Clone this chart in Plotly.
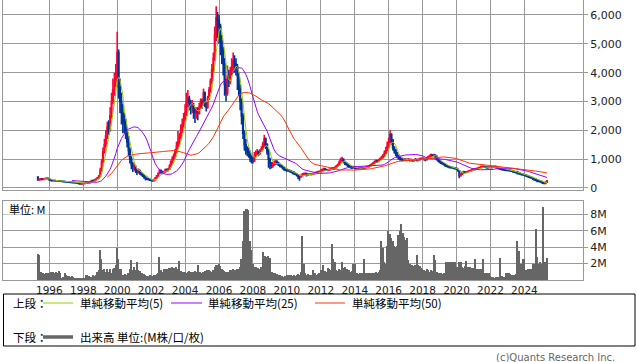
import pandas as pd
import plotly.graph_objects as go

# ---------------- data (monthly, May 1995 - May 2025) ----------------
start_month = "1995-05-01"
first_open = 380

closes = [
    280, 300, 320, 300, 310, 330, 340, 320,                                  # 1995 (May-Dec)
    280, 260, 255, 260, 250, 245, 250, 240, 235, 230, 220, 215,              # 1996
    210, 205, 200, 195, 190, 185, 180, 175, 170, 150, 140, 150,              # 1997
    160, 165, 170, 165, 180, 220, 260, 240, 280, 310, 350, 400,              # 1998
    600, 900, 1250, 1500, 1800, 2100, 2000, 2500, 3000, 3400, 3700, 3900,    # 1999
    4700, 3500, 3000, 2600, 2300, 2200, 1900, 1600, 1300, 1000, 800, 700,    # 2000
    720, 600, 550, 600, 520, 480, 430, 380, 330, 320, 300, 280,              # 2001
    260, 250, 290, 350, 420, 500, 600, 560, 540, 560, 620, 600,              # 2002
    650, 750, 900, 1000, 1100, 1250, 1450, 1600, 1750, 2000, 2200, 2400,     # 2003
    2600, 3000, 3100, 2950, 2800, 2850, 2700, 2600, 2650, 2600, 2800, 3000,  # 2004
    2900, 3300, 2950, 2800, 3100, 3400, 3700, 4100, 4500, 5300, 5900, 5800,  # 2005
    5600, 5100, 4700, 4300, 3600, 3300, 3900, 3700, 4000, 4200, 4400, 4300,  # 2006
    4200, 3900, 3500, 3000, 2500, 1900, 1500, 1300, 1250, 1200, 1050, 1000,  # 2007
    950, 1100, 1200, 1250, 1200, 1280, 1350, 1500, 1700, 1500, 1250, 1000,   # 2008
    850, 750, 800, 850, 900, 880, 820, 780, 750, 700, 650, 620,              # 2009
    620, 600, 580, 560, 540, 500, 480, 450, 400, 380, 430, 470,              # 2010
    480, 500, 450, 470, 480, 470, 490, 500, 520, 540, 550, 560,              # 2011
    600, 630, 650, 640, 630, 620, 640, 660, 680, 670, 700, 760,              # 2012
    800, 880, 960, 1000, 920, 860, 820, 780, 740, 720, 700, 720,             # 2013
    700, 680, 690, 680, 690, 700, 690, 700, 720, 730, 760, 790,              # 2014
    820, 860, 900, 940, 920, 960, 1000, 1050, 1100, 1200, 1300, 1450,        # 2015
    1600, 1850, 1650, 1400, 1300, 1200, 1100, 1050, 1000, 1000, 980, 990,    # 2016
    980, 970, 990, 960, 980, 950, 970, 990, 960, 980, 1000, 1010,            # 2017
    1020, 1000, 980, 1030, 1080, 1100, 1150, 1120, 1140, 1100, 1000, 960,    # 2018
    900, 870, 850, 820, 780, 760, 740, 720, 720, 700, 690, 680,              # 2019
    650, 600, 430, 480, 520, 560, 540, 560, 580, 590, 610, 630,              # 2020
    640, 650, 660, 680, 700, 720, 730, 740, 730, 720, 710, 720,              # 2021
    730, 720, 730, 740, 720, 700, 680, 660, 650, 640, 630, 620,              # 2022
    620, 610, 600, 590, 570, 560, 540, 520, 510, 490, 470, 460,              # 2023
    450, 430, 410, 390, 370, 350, 330, 300, 280, 260, 240, 230,              # 2024
    190, 170, 160, 200, 240,                                                 # 2025 (Jan-May)
]

highs = [
    400, 320, 340, 330, 330, 350, 360, 350,
    330, 290, 275, 275, 270, 260, 265, 260, 250, 245, 240, 230,
    225, 220, 215, 210, 205, 200, 195, 190, 185, 180, 160, 165,
    170, 175, 180, 180, 195, 240, 280, 270, 300, 330, 380, 450,
    700, 1000, 1400, 1700, 2000, 2300, 2350, 2800, 3300, 3800, 4000, 4300,
    5420, 4800, 3800, 3300, 2900, 2600, 2400, 2100, 1800, 1400, 1100, 900,
    850, 780, 650, 680, 640, 560, 500, 450, 400, 360, 350, 320,
    300, 280, 310, 370, 450, 540, 650, 640, 600, 600, 680, 680,
    700, 820, 960, 1100, 1200, 1350, 1600, 1980, 1900, 2200, 2400, 2600,
    2900, 3300, 3400, 3200, 3050, 3050, 2950, 2800, 2800, 2800, 2950, 3100,
    3100, 3450, 3350, 3000, 3200, 3500, 3800, 4300, 4700, 5600, 6300, 6100,
    6000, 5700, 5300, 4900, 4500, 3800, 4250, 4100, 4200, 4500, 4700, 4600,
    4500, 4300, 4000, 3600, 3100, 2600, 2000, 1700, 1450, 1400, 1300, 1150,
    1100, 1250, 1300, 1350, 1300, 1350, 1450, 1600, 1850, 1750, 1550, 1350,
    1050, 900, 900, 950, 980, 960, 900, 850, 820, 780, 720, 680,
    680, 660, 640, 620, 600, 580, 540, 500, 470, 420, 470, 520,
    540, 540, 520, 500, 510, 510, 520, 540, 560, 580, 600, 610,
    650, 680, 700, 690, 670, 660, 680, 700, 730, 720, 750, 800,
    850, 950, 1050, 1080, 1020, 940, 880, 840, 800, 770, 750, 770,
    760, 730, 730, 720, 730, 740, 730, 740, 760, 770, 800, 830,
    860, 900, 950, 990, 980, 1010, 1060, 1120, 1180, 1300, 1420, 1600,
    1750, 2000, 1900, 1700, 1450, 1350, 1250, 1150, 1080, 1050, 1050, 1040,
    1030, 1020, 1040, 1010, 1020, 1000, 1010, 1040, 1010, 1020, 1050, 1060,
    1070, 1050, 1030, 1080, 1120, 1150, 1200, 1180, 1190, 1160, 1120, 1020,
    970, 920, 900, 870, 830, 800, 780, 760, 760, 740, 730, 720,
    700, 680, 620, 520, 560, 600, 590, 590, 610, 620, 640, 660,
    680, 690, 700, 720, 740, 770, 780, 790, 770, 760, 750, 760,
    770, 760, 770, 780, 760, 740, 720, 700, 690, 680, 670, 660,
    660, 650, 640, 630, 610, 600, 580, 600, 560, 530, 510, 500,
    490, 470, 450, 430, 400, 390, 370, 350, 340, 300, 280, 260,
    240, 220, 200, 230, 280,
]

lows = [
    260, 270, 290, 290, 290, 300, 320, 300,
    260, 245, 240, 245, 240, 230, 235, 230, 225, 215, 210, 200,
    195, 195, 190, 185, 180, 175, 170, 165, 155, 130, 110, 130,
    140, 150, 155, 155, 160, 175, 210, 220, 230, 270, 300, 340,
    380, 580, 850, 1200, 1400, 1700, 1850, 1950, 2400, 2900, 3200, 3500,
    3700, 3100, 2600, 2200, 1900, 1900, 1700, 1400, 1100, 850, 650, 550,
    600, 520, 450, 500, 460, 420, 380, 320, 260, 280, 260, 240,
    230, 220, 240, 280, 340, 410, 480, 500, 480, 500, 540, 560,
    570, 620, 720, 850, 950, 1050, 1200, 1350, 1500, 1700, 1900, 2100,
    2300, 2500, 2800, 2700, 2550, 2600, 2400, 2250, 2400, 2350, 2550, 2750,
    2750, 2850, 2800, 2650, 2750, 3050, 3300, 3600, 4000, 4400, 5100, 5200,
    5000, 4600, 4300, 3900, 3200, 3000, 3200, 3500, 3600, 3900, 4000, 4000,
    3900, 3400, 3200, 2700, 2200, 1700, 1300, 1150, 1100, 1050, 900, 850,
    850, 900, 1050, 1150, 1100, 1150, 1250, 1300, 1400, 1350, 1150, 700,
    650, 680, 700, 780, 800, 800, 760, 720, 700, 640, 600, 580,
    560, 560, 540, 520, 480, 460, 440, 400, 300, 250, 360, 420,
    440, 460, 400, 420, 450, 440, 450, 470, 480, 500, 510, 520,
    550, 590, 610, 600, 590, 580, 600, 620, 640, 630, 660, 700,
    740, 800, 860, 920, 860, 800, 780, 730, 700, 680, 660, 680,
    660, 640, 650, 640, 650, 660, 650, 660, 680, 690, 720, 750,
    780, 810, 850, 890, 870, 900, 950, 980, 1030, 1080, 1180, 1280,
    1400, 1550, 1500, 1300, 1200, 1100, 1030, 980, 950, 940, 930, 940,
    940, 930, 940, 920, 930, 910, 930, 950, 920, 930, 960, 970,
    970, 950, 930, 970, 1020, 1050, 1090, 1070, 1090, 1000, 950, 900,
    860, 830, 810, 780, 740, 720, 700, 680, 680, 670, 650, 640,
    620, 560, 340, 400, 460, 500, 510, 520, 540, 560, 570, 590,
    600, 610, 620, 640, 660, 680, 690, 700, 690, 680, 670, 680,
    690, 680, 690, 700, 680, 660, 640, 620, 610, 600, 590, 580,
    580, 570, 560, 550, 530, 520, 500, 470, 470, 450, 430, 420,
    410, 390, 370, 350, 330, 320, 280, 250, 230, 200, 200, 190,
    170, 140, 130, 150, 190,
]

volumes_m = [
    3.2, 3.0, 1.0, 0.6, 0.9, 0.7, 0.8, 0.9,
    0.9, 1.0, 0.9, 1.0, 0.8, 1.0, 0.9, 1.1, 0.9, 0.3, 0.4, 0.8,
    0.6, 0.5, 0.5, 0.4, 0.5, 0.4, 0.3, 0.3, 0.2, 0.2, 0.3, 0.2,
    0.2, 0.3, 0.6, 0.6, 0.5, 0.4, 0.4, 0.6, 0.5, 0.6, 1.0, 1.2,
    3.7, 2.6, 1.2, 1.4, 1.0, 1.3, 1.0, 1.4, 0.8, 1.3, 1.5, 1.8,
    3.9, 2.6, 1.4, 1.3, 0.6, 0.6, 0.7, 0.6, 0.9, 1.4, 2.4, 1.2,
    1.6, 1.2, 2.2, 1.2, 1.1, 0.9, 0.8, 0.7, 0.6, 0.5, 0.5, 0.6,
    0.5, 0.5, 0.6, 0.6, 0.7, 0.8, 2.8, 1.2, 1.0, 1.3, 1.3, 1.4,
    1.4, 1.5, 1.5, 1.6, 1.5, 1.5, 1.6, 1.4, 2.3, 1.1, 1.0, 1.0,
    1.0, 0.9, 1.0, 1.1, 1.0, 1.0, 1.0, 1.1, 1.0, 1.8, 1.0, 1.0,
    0.9, 1.0, 1.1, 1.0, 1.2, 1.2, 1.1, 1.0, 1.2, 1.6, 1.8, 1.8,
    1.9, 1.7, 1.4, 1.2, 1.1, 1.0, 1.0, 1.0, 1.2, 1.2, 1.3, 1.2,
    1.2, 1.3, 1.3, 1.6, 2.6, 4.7, 8.4, 8.7, 8.6, 8.5, 4.7, 3.7,
    2.0, 1.6, 1.6, 1.5, 1.5, 1.4, 1.6, 3.4, 2.9, 2.9, 2.8, 2.9,
    2.7, 1.0, 1.0, 0.9, 0.8, 0.7, 0.6, 0.6, 0.5, 0.5, 0.4, 0.5,
    0.6, 0.5, 0.6, 0.6, 0.5, 0.6, 0.5, 0.6, 0.7, 0.6, 1.0, 5.4,
    2.0, 0.8, 0.6, 0.7, 0.6, 0.6, 0.6, 1.2, 0.9, 0.6, 0.7, 0.9,
    1.2, 1.0, 1.8, 1.1, 1.0, 1.5, 1.3, 1.2, 4.4, 2.6, 2.2, 1.2,
    1.1, 1.4, 1.2, 2.2, 1.5, 1.6, 1.4, 1.4, 1.2, 1.0, 1.1, 2.0,
    2.0, 0.8, 0.8, 0.7, 0.8, 0.8, 0.9, 2.6, 0.9, 0.9, 0.8, 0.9,
    0.9, 0.8, 0.9, 1.0, 0.9, 1.0, 1.2, 4.7, 3.9, 2.2, 2.0, 4.1,
    6.0, 5.6, 5.1, 4.8, 4.1, 4.0, 4.2, 5.5, 6.0, 6.8, 5.7, 5.2,
    4.9, 5.1, 2.4, 2.0, 1.8, 1.8, 1.7, 1.8, 3.0, 1.8, 1.7, 1.5,
    1.4, 1.2, 1.1, 1.3, 1.2, 1.0, 1.2, 1.1, 3.1, 2.4, 1.0, 0.9,
    0.8, 0.8, 0.7, 0.9, 0.8, 2.2, 2.2, 2.2, 2.2, 1.5, 2.2, 2.2,
    1.6, 1.6, 2.2, 2.2, 1.6, 1.5, 1.7, 2.3, 1.6, 1.5, 1.6, 1.5,
    1.5, 2.6, 1.4, 1.3, 1.4, 1.4, 1.3, 2.6, 0.9, 0.9, 0.8, 0.9,
    0.5, 0.4, 0.4, 0.3, 0.4, 0.4, 0.4, 2.7, 0.5, 0.4, 0.4, 0.9,
    0.9, 0.9, 0.7, 0.6, 0.6, 0.6, 0.7, 4.7, 3.5, 1.8, 1.9, 2.6,
    2.6, 1.2, 1.2, 1.4, 1.4, 1.3, 2.0, 2.0, 6.2, 2.8, 2.0, 2.2,
    2.0, 8.9, 1.0, 2.2, 2.7,
]

year_ticks = [str(y) for y in range(1996, 2025, 2)]
price_ticks = [0, 1000, 2000, 3000, 4000, 5000, 6000]
volume_ticks = [2, 4, 6, 8]
volume_tick_labels = ["2M", "4M", "6M", "8M"]
ma_windows = [5, 25, 50]
ma_names = ["単純移動平均(5)", "単純移動平均(25)", "単純移動平均(50)"]
ma_colors = ["#99cc00", "#9900ff", "#ff3300"]

# ---------------- build ----------------
dates = pd.date_range(start_month, periods=len(closes), freq="MS")
opens = [first_open] + closes[:-1]
close_s = pd.Series(closes, index=dates, dtype=float)
year_tick_dates = [f"{y}-01-01" for y in year_ticks]

UP = "#ff0033"
DOWN = "#003399"
GRID = "#999999"
VOL = "#666666"
TXT = "#222222"
LAT = "DejaVu Sans"
JP = "Noto Sans CJK JP"
MONTH_MS = 31 * 24 * 3600 * 1000  # bar width: one calendar month

fig = go.Figure()
fig.add_trace(go.Candlestick(
    x=dates, open=opens, high=highs, low=lows, close=closes,
    increasing=dict(line=dict(color=UP, width=1.6), fillcolor=UP),
    decreasing=dict(line=dict(color=DOWN, width=1.6), fillcolor=DOWN),
    whiskerwidth=0, xaxis="x", yaxis="y", showlegend=False, hoverinfo="skip",
))
for w, name, col in zip(ma_windows, ma_names, ma_colors):
    fig.add_trace(go.Scatter(
        x=dates, y=close_s.rolling(w).mean(), mode="lines", name=name,
        line=dict(color=col, width=1), xaxis="x", yaxis="y", hoverinfo="skip",
    ))
fig.add_trace(go.Bar(
    x=dates, y=volumes_m, width=MONTH_MS,
    marker=dict(color=VOL, line=dict(width=0)),
    xaxis="x2", yaxis="y2", hoverinfo="skip", name="出来高",
))

xr = ["1993-04-08", "2027-06-16"]
common_x = dict(type="date", range=xr, showgrid=True, gridcolor=GRID, gridwidth=1,
                tickmode="array", tickvals=year_tick_dates, ticktext=year_ticks,
                zeroline=False, showline=True, linecolor=GRID, linewidth=1,
                fixedrange=True)

fig.update_layout(
    width=638, height=362,
    margin=dict(l=3, r=55, t=0, b=82),
    paper_bgcolor="white", plot_bgcolor="white",
    showlegend=False, hovermode=False, bargap=0.0,
    font=dict(family=LAT, size=11, color=TXT),
    xaxis=dict(common_x, domain=[0, 1], anchor="y", showticklabels=False, ticks="",
               rangeslider=dict(visible=False)),
    yaxis=dict(domain=[1 - 190 / 280, 1], anchor="x", side="right",
               range=[-70, 6520], tickvals=price_ticks, tickformat=",d",
               showgrid=True, gridcolor=GRID, gridwidth=1, zeroline=False,
               showline=True, linecolor=GRID, mirror=True,
               ticks="outside", ticklen=4, tickcolor=GRID,
               tickfont=dict(family=LAT, size=11, color=TXT), fixedrange=True),
    xaxis2=dict(common_x, domain=[0, 1], anchor="y2", matches="x", mirror=True,
                showticklabels=True, ticks="",
                tickfont=dict(family=LAT, size=10.5, color=TXT)),
    yaxis2=dict(domain=[0, 79 / 280], anchor="x2", side="right",
                range=[0, 9.63], tickvals=volume_ticks, ticktext=volume_tick_labels,
                showgrid=True, gridcolor=GRID, gridwidth=1, zeroline=False,
                showline=True, linecolor=GRID, mirror=True,
                ticks="outside", ticklen=4, tickcolor=GRID,
                tickfont=dict(family=LAT, size=11, color=TXT), fixedrange=True),
)

# pixel -> paper helpers (plot area: x 3..583, y 0..280)
def px(x):
    return (x - 3) / 580.0

def py(y):
    return (280 - y) / 280.0

shapes = []
annotations = []

# "単位: M" label box in the volume panel
shapes.append(dict(type="rect", xref="paper", yref="paper",
                   x0=px(3.6), x1=px(48.5), y0=py(214.5), y1=py(201.6),
                   fillcolor="white", line=dict(width=0), layer="above"))
annotations.append(dict(text="単位: M", xref="paper", yref="paper", x=px(7), y=py(208.5),
                        xanchor="left", yanchor="middle", showarrow=False,
                        font=dict(family=JP, size=11, color="#000000")))

# legend box
shapes.append(dict(type="rect", xref="paper", yref="paper",
                   x0=px(3.5), x1=px(635), y0=py(346), y1=py(294),
                   fillcolor="white", line=dict(color="#000000", width=1), layer="above"))

row1 = 303
row2 = 337
annotations.append(dict(text="上段：", xref="paper", yref="paper", x=px(11), y=py(row1),
                        xanchor="left", yanchor="middle", showarrow=False,
                        font=dict(family=JP, size=11.5, color="#000000")))
annotations.append(dict(text="下段：", xref="paper", yref="paper", x=px(11), y=py(row2),
                        xanchor="left", yanchor="middle", showarrow=False,
                        font=dict(family=JP, size=11.5, color="#000000")))
leg_x = [(43, 73, 78), (171, 202, 206), (315, 345, 350)]
for (x0, x1, xt), name, col in zip(leg_x, ma_names, ma_colors):
    shapes.append(dict(type="line", xref="paper", yref="paper",
                       x0=px(x0), x1=px(x1), y0=py(row1), y1=py(row1),
                       line=dict(color=col, width=1), layer="above"))
    annotations.append(dict(text=name, xref="paper", yref="paper", x=px(xt), y=py(row1),
                            xanchor="left", yanchor="middle", showarrow=False,
                            font=dict(family=JP, size=11.5, color="#000000")))
shapes.append(dict(type="line", xref="paper", yref="paper",
                   x0=px(43), x1=px(73), y0=py(row2), y1=py(row2),
                   line=dict(color=VOL, width=3.5), layer="above"))
annotations.append(dict(text="出来高 単位:(M株/口/枚)", xref="paper", yref="paper",
                        x=px(78), y=py(row2), xanchor="left", yanchor="middle",
                        showarrow=False, font=dict(family=JP, size=11.5, color="#000000")))

# copyright
annotations.append(dict(text="(c)Quants Research Inc.", xref="paper", yref="paper",
                        x=px(617), y=py(357), xanchor="right", yanchor="middle",
                        showarrow=False, font=dict(family=LAT, size=10, color="#666666")))

fig.update_layout(shapes=shapes, annotations=annotations)

# page body has no margin so the figure sits at the window's top-left corner
fig.write_html("out.html", config={"displayModeBar": False},
               post_script="document.body.style.margin='0';")
